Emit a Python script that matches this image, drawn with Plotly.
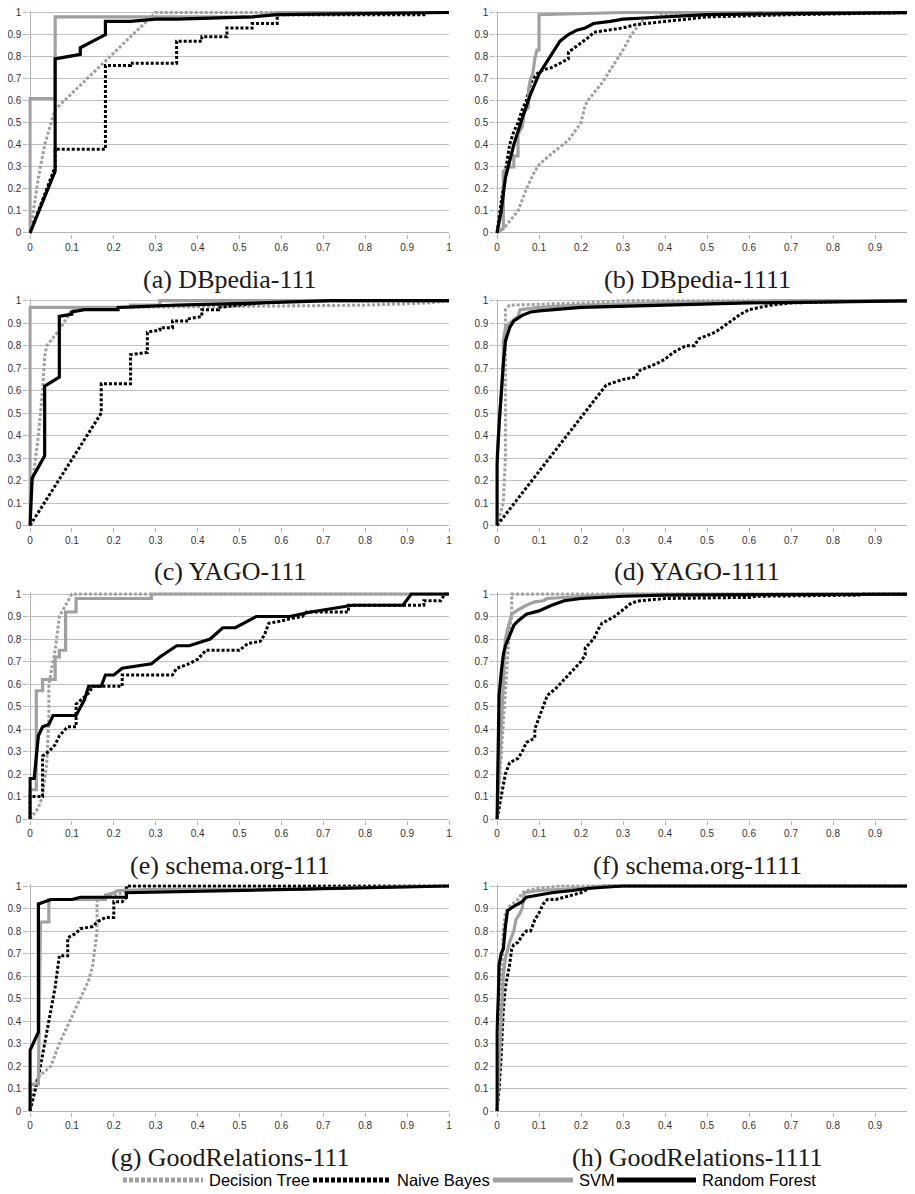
import plotly.graph_objects as go

# the page body has an 8px margin, so the figure is sized to fill the window from (8, 8)
PAGE_W, PAGE_H, OFF = 915, 1194, 8
W, H = PAGE_W - OFF, PAGE_H - OFF

panel_titles = ["(a) DBpedia-111", "(b) DBpedia-1111", "(c) YAGO-111", "(d) YAGO-1111",
                "(e) schema.org-111", "(f) schema.org-1111",
                "(g) GoodRelations-111", "(h) GoodRelations-1111"]
classifiers = ["Decision Tree", "Naive Bayes", "SVM", "Random Forest"]
tick_vals = [0, 0.1, 0.2, 0.3, 0.4, 0.5, 0.6, 0.7, 0.8, 0.9, 1]
tick_text = ["0", "0.1", "0.2", "0.3", "0.4", "0.5", "0.6", "0.7", "0.8", "0.9", "1"]

# ---- (a) DBpedia-111 ----
a_dt_x = [0, 0.01, 0.02, 0.035, 0.06, 0.30, 1]
a_dt_y = [0, 0.12, 0.25, 0.40, 0.56, 1.0, 1]
a_nb_x = [0, 0.06, 0.06, 0.18, 0.18, 0.24, 0.24, 0.35, 0.35, 0.41, 0.41, 0.47, 0.47, 0.53, 0.53, 0.59, 0.59, 0.94, 0.94, 1]
a_nb_y = [0, 0.30, 0.38, 0.38, 0.76, 0.76, 0.77, 0.77, 0.87, 0.87, 0.89, 0.89, 0.93, 0.93, 0.95, 0.95, 0.99, 0.99, 1.0, 1]
a_svm_x = [0, 0, 0.06, 0.06, 0.53, 0.59, 1]
a_svm_y = [0, 0.61, 0.61, 0.98, 0.98, 1.0, 1]
a_rf_x = [0, 0.06, 0.06, 0.12, 0.12, 0.18, 0.18, 0.24, 0.30, 0.35, 0.53, 0.59, 1]
a_rf_y = [0, 0.28, 0.79, 0.81, 0.84, 0.90, 0.96, 0.96, 0.97, 0.97, 0.98, 0.99, 1]

# ---- (b) DBpedia-1111 ----
b_dt_x = [0, 0.02, 0.05, 0.07, 0.09, 0.10, 0.13, 0.17, 0.20, 0.21, 0.22, 0.25, 0.28, 0.30, 0.32, 0.34, 0.35, 0.40, 0.60, 1]
b_dt_y = [0, 0.03, 0.10, 0.20, 0.28, 0.31, 0.36, 0.42, 0.50, 0.58, 0.61, 0.68, 0.77, 0.83, 0.90, 0.95, 0.97, 0.99, 1.0, 1]
b_nb_x = [0, 0.01, 0.02, 0.03, 0.04, 0.05, 0.06, 0.07, 0.08, 0.09, 0.10, 0.11, 0.13, 0.15, 0.17, 0.17, 0.20, 0.22, 0.23, 0.27, 0.30, 0.33, 0.40, 0.50, 0.70, 1]
b_nb_y = [0, 0.15, 0.28, 0.40, 0.46, 0.50, 0.56, 0.60, 0.68, 0.71, 0.73, 0.74, 0.75, 0.77, 0.79, 0.82, 0.86, 0.89, 0.91, 0.92, 0.93, 0.945, 0.96, 0.98, 0.99, 1]
b_svm_x = [0, 0.015, 0.015, 0.03, 0.04, 0.04, 0.05, 0.05, 0.06, 0.065, 0.075, 0.075, 0.08, 0.085, 0.09, 0.095, 0.10, 0.10, 0.30, 1]
b_svm_y = [0, 0.02, 0.28, 0.30, 0.30, 0.35, 0.35, 0.45, 0.48, 0.55, 0.57, 0.65, 0.70, 0.72, 0.79, 0.83, 0.83, 0.99, 1.0, 1]
b_rf_x = [0, 0.01, 0.02, 0.04, 0.06, 0.08, 0.10, 0.12, 0.15, 0.17, 0.19, 0.21, 0.23, 0.27, 0.30, 0.35, 0.40, 0.50, 0.70, 1]
b_rf_y = [0, 0.10, 0.25, 0.40, 0.52, 0.63, 0.72, 0.78, 0.87, 0.90, 0.92, 0.93, 0.95, 0.96, 0.97, 0.975, 0.98, 0.99, 0.995, 1]

# ---- (c) YAGO-111 ----
c_dt_x = [0, 0.005, 0.02, 0.03, 0.035, 0.04, 0.07, 0.09, 0.10, 0.20, 0.50, 0.80, 0.95, 1]
c_dt_y = [0, 0.18, 0.40, 0.60, 0.75, 0.80, 0.87, 0.93, 0.96, 0.97, 0.975, 0.98, 0.99, 1]
c_nb_x = [0, 0.17, 0.17, 0.24, 0.24, 0.28, 0.28, 0.31, 0.31, 0.34, 0.34, 0.38, 0.38, 0.41, 0.41, 0.45, 0.45, 0.55, 0.55, 1]
c_nb_y = [0, 0.50, 0.63, 0.63, 0.76, 0.77, 0.86, 0.87, 0.88, 0.88, 0.91, 0.91, 0.92, 0.93, 0.96, 0.96, 0.97, 0.99, 1.0, 1]
c_svm_x = [0, 0, 0.24, 0.24, 0.31, 0.31, 1]
c_svm_y = [0, 0.97, 0.97, 0.98, 0.98, 1.0, 1]
c_rf_x = [0, 0.005, 0.035, 0.035, 0.07, 0.07, 0.10, 0.10, 0.13, 0.21, 0.21, 0.35, 0.55, 0.72, 1]
c_rf_y = [0, 0.21, 0.31, 0.62, 0.66, 0.93, 0.94, 0.95, 0.96, 0.96, 0.97, 0.98, 0.99, 1.0, 1]

# ---- (d) YAGO-1111 ----
d_dt_x = [0, 0.015, 0.02, 0.02, 0.03, 0.20, 0.30, 1]
d_dt_y = [0, 0.10, 0.30, 0.96, 0.98, 0.99, 1.0, 1]
d_nb_x = [0, 0.05, 0.10, 0.15, 0.20, 0.26, 0.30, 0.33, 0.34, 0.38, 0.40, 0.42, 0.45, 0.47, 0.48, 0.52, 0.55, 0.58, 0.60, 0.65, 0.70, 0.90, 1]
d_nb_y = [0, 0.12, 0.245, 0.36, 0.48, 0.625, 0.65, 0.66, 0.69, 0.72, 0.74, 0.77, 0.80, 0.80, 0.83, 0.86, 0.90, 0.94, 0.96, 0.98, 0.99, 1.0, 1]
d_svm_x = [0, 0, 0.005, 0.01, 0.015, 0.015, 0.02, 0.03, 0.05, 0.055, 0.10, 0.20, 0.40, 0.70, 1]
d_svm_y = [0, 0.30, 0.45, 0.60, 0.70, 0.82, 0.88, 0.90, 0.93, 0.96, 0.97, 0.98, 0.99, 1.0, 1]
d_rf_x = [0, 0, 0.005, 0.01, 0.015, 0.02, 0.03, 0.04, 0.06, 0.08, 0.10, 0.20, 0.40, 0.60, 1]
d_rf_y = [0, 0.27, 0.45, 0.60, 0.72, 0.82, 0.88, 0.91, 0.935, 0.95, 0.955, 0.97, 0.98, 0.99, 1]

# ---- (e) schema.org-111 ----
e_dt_x = [0, 0.02, 0.03, 0.04, 0.045, 0.045, 0.05, 0.06, 0.07, 0.09, 0.10, 1]
e_dt_y = [0, 0.05, 0.10, 0.25, 0.45, 0.60, 0.65, 0.75, 0.90, 0.97, 1.0, 1]
e_nb_x = [0, 0, 0.03, 0.03, 0.045, 0.06, 0.07, 0.08, 0.09, 0.11, 0.11, 0.14, 0.15, 0.22, 0.22, 0.34, 0.35, 0.38, 0.40, 0.42, 0.50, 0.52, 0.55, 0.56, 0.57, 0.60, 0.62, 0.65, 0.66, 0.76, 0.76, 0.94, 0.94, 0.98, 0.99, 1]
e_nb_y = [0, 0.10, 0.10, 0.28, 0.30, 0.33, 0.37, 0.39, 0.41, 0.41, 0.51, 0.56, 0.59, 0.59, 0.64, 0.64, 0.67, 0.69, 0.71, 0.75, 0.75, 0.78, 0.79, 0.82, 0.87, 0.88, 0.89, 0.90, 0.92, 0.92, 0.95, 0.95, 0.97, 0.97, 1.0, 1]
e_svm_x = [0, 0, 0.015, 0.015, 0.03, 0.03, 0.06, 0.06, 0.07, 0.07, 0.085, 0.085, 0.11, 0.11, 0.29, 0.29, 1]
e_svm_y = [0, 0.13, 0.13, 0.57, 0.57, 0.62, 0.62, 0.72, 0.72, 0.75, 0.75, 0.92, 0.92, 0.98, 0.98, 1.0, 1]
e_rf_x = [0, 0, 0.01, 0.02, 0.03, 0.045, 0.055, 0.11, 0.13, 0.14, 0.17, 0.18, 0.20, 0.22, 0.29, 0.31, 0.35, 0.38, 0.43, 0.46, 0.49, 0.54, 0.62, 0.67, 0.77, 0.89, 0.91, 1]
e_rf_y = [0, 0.18, 0.18, 0.37, 0.41, 0.42, 0.46, 0.46, 0.53, 0.59, 0.59, 0.64, 0.64, 0.67, 0.69, 0.72, 0.77, 0.77, 0.80, 0.85, 0.85, 0.90, 0.90, 0.92, 0.95, 0.95, 1.0, 1]

# ---- (f) schema.org-1111 ----
f_dt_x = [0, 0.01, 0.02, 0.03, 0.035, 0.035, 1]
f_dt_y = [0, 0.30, 0.60, 0.85, 0.90, 1.0, 1]
f_nb_x = [0, 0.01, 0.02, 0.03, 0.05, 0.06, 0.07, 0.09, 0.09, 0.10, 0.11, 0.12, 0.14, 0.16, 0.18, 0.20, 0.21, 0.21, 0.23, 0.24, 0.25, 0.28, 0.30, 0.32, 0.34, 0.40, 0.60, 0.62, 0.86, 0.87, 1]
f_nb_y = [0, 0.10, 0.20, 0.25, 0.27, 0.30, 0.34, 0.36, 0.40, 0.45, 0.50, 0.55, 0.58, 0.62, 0.66, 0.70, 0.73, 0.76, 0.80, 0.84, 0.87, 0.90, 0.93, 0.96, 0.97, 0.98, 0.985, 0.99, 0.995, 1.0, 1]
f_svm_x = [0, 0.005, 0.01, 0.015, 0.02, 0.025, 0.03, 0.035, 0.05, 0.07, 0.09, 0.11, 0.12, 0.20, 0.30, 1]
f_svm_y = [0, 0.20, 0.45, 0.65, 0.80, 0.84, 0.88, 0.91, 0.93, 0.95, 0.965, 0.97, 0.98, 0.99, 1.0, 1]
f_rf_x = [0, 0.003, 0.005, 0.01, 0.015, 0.02, 0.03, 0.04, 0.05, 0.07, 0.10, 0.13, 0.16, 0.20, 0.30, 0.40, 1]
f_rf_y = [0, 0.40, 0.55, 0.65, 0.73, 0.77, 0.82, 0.86, 0.88, 0.91, 0.925, 0.95, 0.97, 0.98, 0.99, 0.995, 1]

# ---- (g) GoodRelations-111 ----
g_dt_x = [0, 0.005, 0.02, 0.05, 0.07, 0.10, 0.12, 0.14, 0.15, 0.16, 0.16, 0.20, 0.22, 0.23, 0.50, 1]
g_dt_y = [0, 0.10, 0.15, 0.20, 0.30, 0.42, 0.50, 0.58, 0.65, 0.80, 0.94, 0.96, 0.97, 0.98, 0.985, 1]
g_nb_x = [0, 0.02, 0.04, 0.06, 0.07, 0.09, 0.09, 0.11, 0.12, 0.15, 0.16, 0.18, 0.20, 0.20, 0.22, 0.23, 0.23, 1]
g_nb_y = [0, 0.15, 0.35, 0.55, 0.69, 0.69, 0.77, 0.79, 0.81, 0.82, 0.84, 0.86, 0.86, 0.93, 0.93, 0.95, 1.0, 1]
g_svm_x = [0, 0, 0.02, 0.025, 0.045, 0.045, 0.18, 0.18, 0.20, 0.21, 0.30, 0.66, 0.70, 1]
g_svm_y = [0, 0.12, 0.12, 0.84, 0.84, 0.94, 0.94, 0.96, 0.97, 0.98, 0.985, 0.985, 0.99, 1]
g_rf_x = [0, 0, 0.02, 0.02, 0.05, 0.10, 0.12, 0.23, 0.23, 0.50, 0.70, 1]
g_rf_y = [0, 0.27, 0.35, 0.92, 0.94, 0.94, 0.95, 0.95, 0.97, 0.98, 0.99, 1]

# ---- (h) GoodRelations-1111 ----
h_dt_x = [0, 0.005, 0.01, 0.015, 0.02, 0.03, 0.05, 0.06, 0.07, 0.10, 0.15, 1]
h_dt_y = [0, 0.30, 0.60, 0.80, 0.88, 0.91, 0.94, 0.97, 0.98, 0.99, 1.0, 1]
h_nb_x = [0, 0.005, 0.01, 0.015, 0.02, 0.03, 0.035, 0.04, 0.05, 0.06, 0.07, 0.08, 0.09, 0.10, 0.11, 0.12, 0.14, 0.16, 0.20, 0.22, 0.25, 1]
h_nb_y = [0, 0.10, 0.25, 0.45, 0.55, 0.65, 0.72, 0.74, 0.75, 0.78, 0.80, 0.80, 0.85, 0.88, 0.92, 0.94, 0.94, 0.95, 0.97, 0.99, 1.0, 1]
h_svm_x = [0, 0.005, 0.01, 0.015, 0.02, 0.03, 0.04, 0.045, 0.055, 0.06, 0.065, 0.10, 0.20, 0.25, 1]
h_svm_y = [0, 0.20, 0.40, 0.60, 0.68, 0.75, 0.80, 0.85, 0.88, 0.90, 0.97, 0.98, 0.99, 1.0, 1]
h_rf_x = [0, 0, 0.003, 0.005, 0.01, 0.015, 0.02, 0.025, 0.04, 0.05, 0.06, 0.07, 0.10, 0.13, 0.18, 0.22, 0.30, 1]
h_rf_y = [0, 0.35, 0.50, 0.65, 0.70, 0.72, 0.82, 0.89, 0.91, 0.92, 0.93, 0.95, 0.96, 0.97, 0.98, 0.99, 1.0, 1]

panels = [
    (a_dt_x, a_dt_y, a_nb_x, a_nb_y, a_svm_x, a_svm_y, a_rf_x, a_rf_y),
    (b_dt_x, b_dt_y, b_nb_x, b_nb_y, b_svm_x, b_svm_y, b_rf_x, b_rf_y),
    (c_dt_x, c_dt_y, c_nb_x, c_nb_y, c_svm_x, c_svm_y, c_rf_x, c_rf_y),
    (d_dt_x, d_dt_y, d_nb_x, d_nb_y, d_svm_x, d_svm_y, d_rf_x, d_rf_y),
    (e_dt_x, e_dt_y, e_nb_x, e_nb_y, e_svm_x, e_svm_y, e_rf_x, e_rf_y),
    (f_dt_x, f_dt_y, f_nb_x, f_nb_y, f_svm_x, f_svm_y, f_rf_x, f_rf_y),
    (g_dt_x, g_dt_y, g_nb_x, g_nb_y, g_svm_x, g_svm_y, g_rf_x, g_rf_y),
    (h_dt_x, h_dt_y, h_nb_x, h_nb_y, h_svm_x, h_svm_y, h_rf_x, h_rf_y),
]

GRAY = "#a0a0a0"
styles = {
    "Decision Tree": dict(color=GRAY, width=3, dash="3px,2px"),
    "Naive Bayes": dict(color="#000000", width=3, dash="3px,2px"),
    "SVM": dict(color=GRAY, width=3.2),
    "Random Forest": dict(color="#000000", width=3.2),
}


def px_x(p):
    return (p - OFF) / W


def px_y(p):
    return 1 - (p - OFF) / H


# pixel geometry in window coordinates
XL = (30, 449)      # left column: x=0, x=1 pixels
XR = (497, 917)     # right column
ROWS = [(12.5, 233), (300.7, 525.5), (594, 819), (886, 1111)]  # (y=1 px, y=0 px)
X_LO, Y_LO, Y_HI = -0.004, -0.006, 1.008

fig = go.Figure()
for i, pdata in enumerate(panels):
    r, c = divmod(i, 2)
    n = i + 1
    xa = "x" if n == 1 else f"x{n}"
    ya = "y" if n == 1 else f"y{n}"
    order = [("Decision Tree", 0), ("Naive Bayes", 2), ("SVM", 4), ("Random Forest", 6)]
    for name, k in order:
        fig.add_trace(go.Scatter(x=pdata[k], y=pdata[k + 1], mode="lines", name=name,
                                 line=styles[name], showlegend=False,
                                 xaxis=xa, yaxis=ya, hoverinfo="skip"))
    x0p, x1p = XL if c == 0 else XR
    unit = x1p - x0p
    xrange_hi = 1.0 if c == 0 else (PAGE_W - x0p) / unit
    dl = max(0.0, px_x(x0p + X_LO * unit))
    dr = min(1.0, px_x(x0p + xrange_hi * unit))
    y1p, y0p = ROWS[r]
    yu = y0p - y1p
    top = y1p - (Y_HI - 1) * yu
    bot = y0p - Y_LO * yu
    axis_common = dict(showgrid=False, zeroline=True, zerolinecolor="#b4b4b4", zerolinewidth=1,
                       showline=False, ticks="outside", ticklen=4, tickcolor="#b4b4b4",
                       tickvals=tick_vals, ticktext=tick_text, automargin=False,
                       ticklabeloverflow="allow",
                       tickfont=dict(family="Liberation Sans", size=10, color="#333333"),
                       fixedrange=True)
    fig.layout[f"xaxis{'' if n == 1 else n}"] = dict(axis_common, domain=[dl, dr],
                                                      range=[X_LO, xrange_hi], anchor=ya)
    fig.layout[f"yaxis{'' if n == 1 else n}"] = dict(axis_common,
                                                      domain=[max(0.0, px_y(bot)), min(1.0, px_y(top))],
                                                      range=[Y_LO, Y_HI], anchor=xa,
                                                      showgrid=True, gridcolor="#c0c0c0", gridwidth=1)
    cx = 230 if c == 0 else 697
    fig.add_annotation(x=px_x(cx), y=px_y(y0p + 46), xref="paper", yref="paper",
                       text=panel_titles[i], showarrow=False, xanchor="center", yanchor="middle",
                       font=dict(family="Liberation Serif", size=26, color="#1a1a1a"))

# legend drawn as line samples + labels along the bottom
legend_px = [(123, 203, 207), (313, 391, 395), (493, 573, 577), (617, 696, 700)]
LEG_Y = px_y(1180)
for name, (s0, s1, tx) in zip(classifiers, legend_px):
    st = styles[name]
    fig.add_shape(type="line", xref="paper", yref="paper", x0=px_x(s0), x1=px_x(s1), y0=LEG_Y, y1=LEG_Y,
                  line=dict(color=st["color"], width=5, dash=("4px,2px" if "dash" in st else "solid")))
    fig.add_annotation(x=px_x(tx), y=LEG_Y, xref="paper", yref="paper", text=name, showarrow=False,
                       xanchor="left", yanchor="middle",
                       font=dict(family="Liberation Sans", size=16.5, color="#000000"))

fig.update_layout(
    width=W, height=H, margin=dict(l=0, r=0, t=0, b=0),
    paper_bgcolor="white", plot_bgcolor="white", showlegend=False,
)

fig.write_html("out.html")
